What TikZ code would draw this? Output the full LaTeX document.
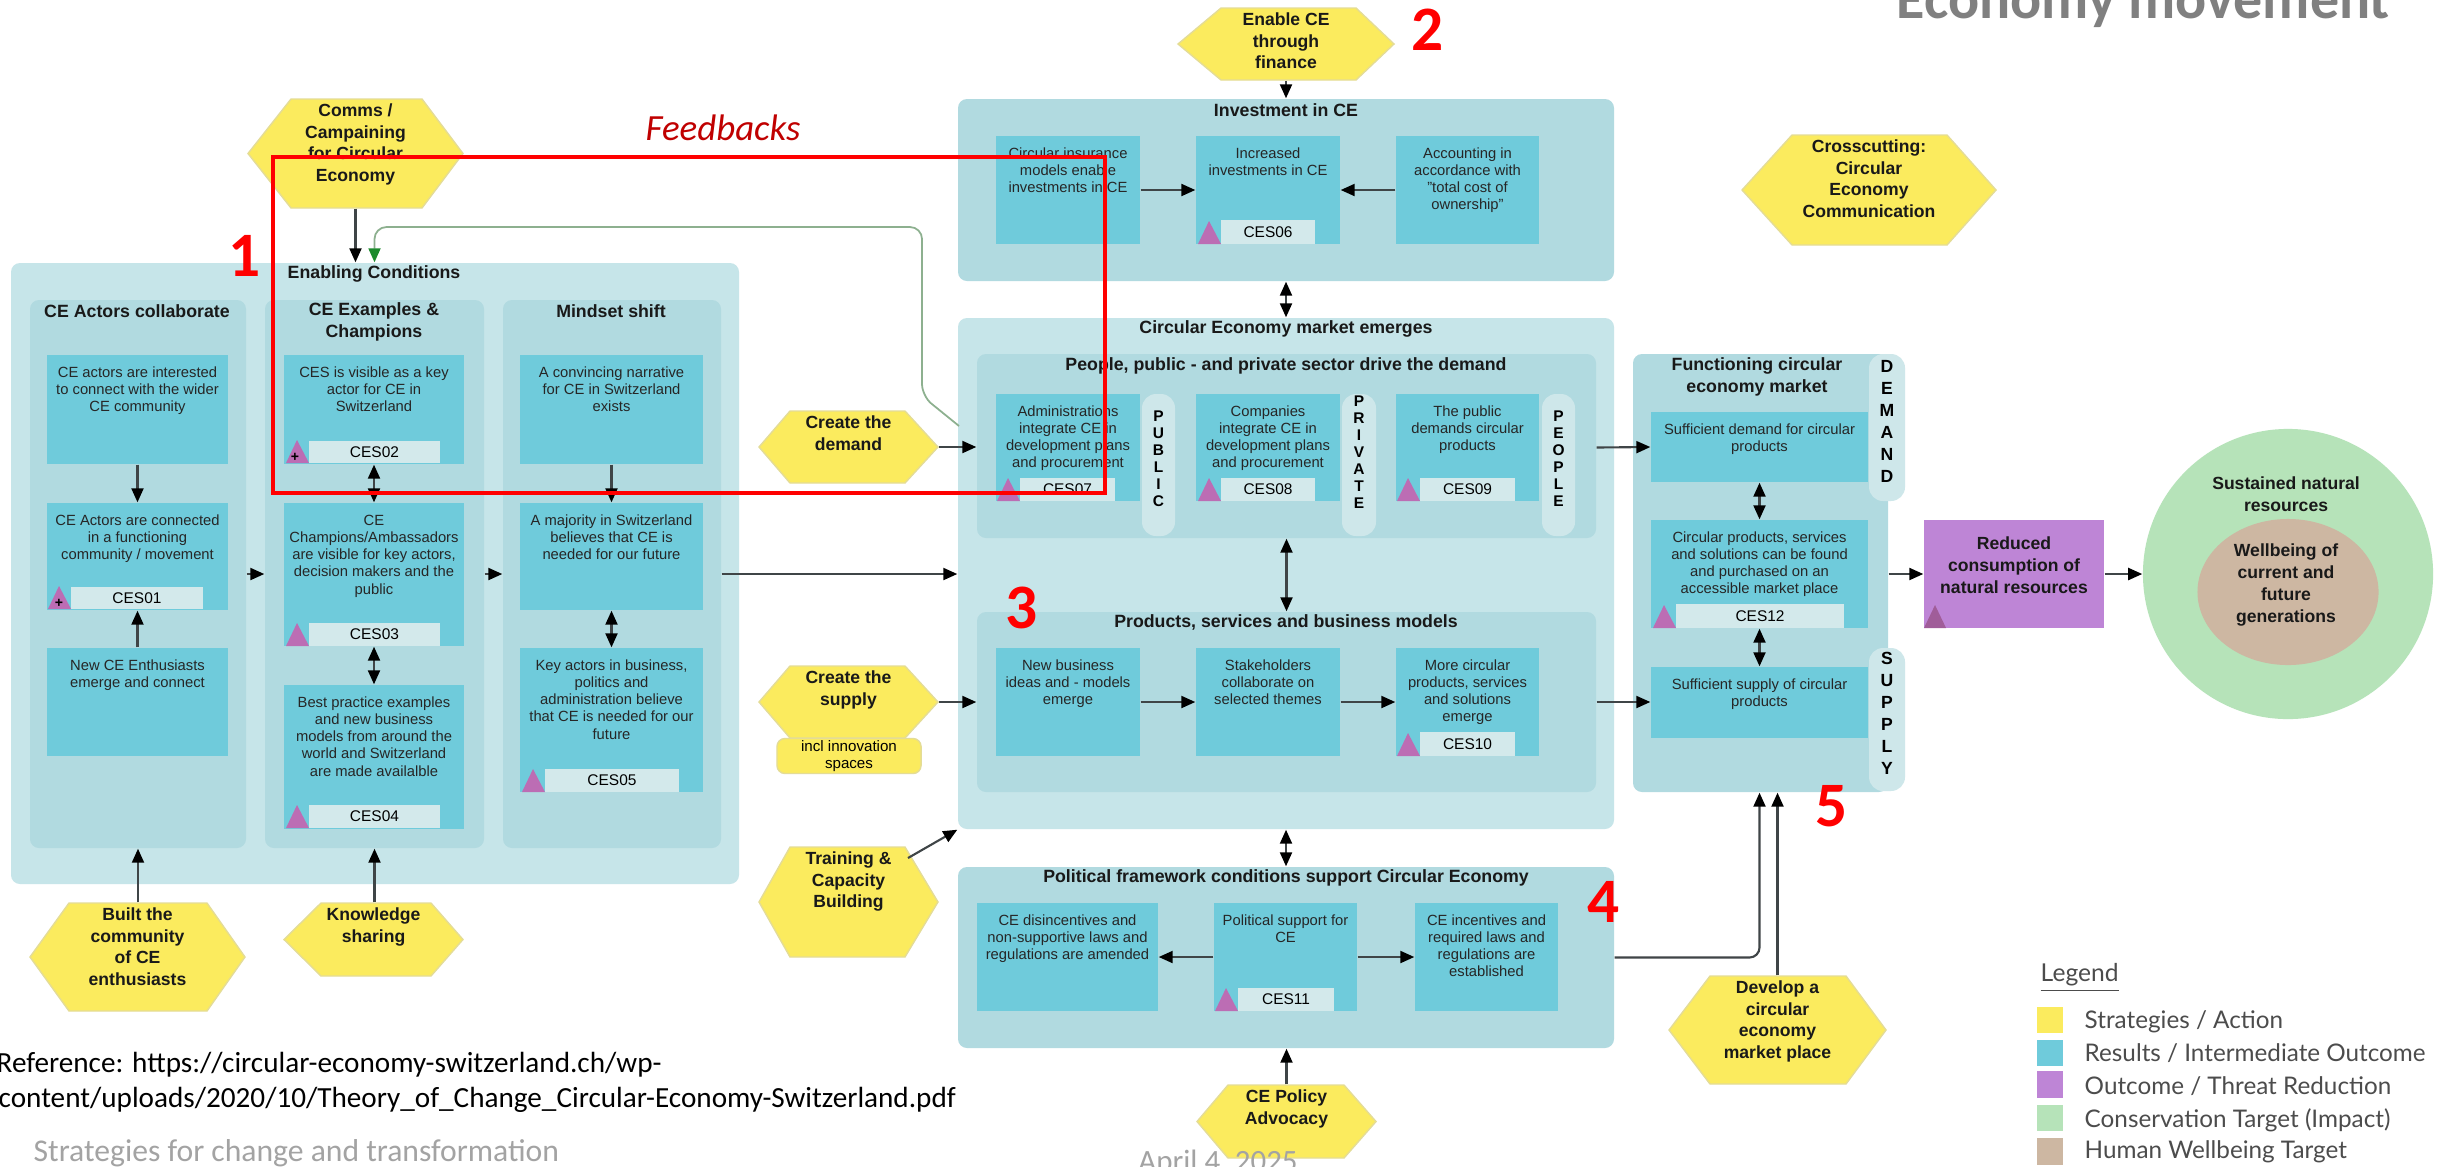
\documentclass[tikz,border=0pt]{standalone}
\usepackage{fontspec}
\setmainfont{Liberation Sans}
\newfontfamily\calibrifont{Carlito}
\newfontfamily\legendfont{Lato}
\usetikzlibrary{positioning,fit,arrows.meta,shapes.geometric}
\definecolor{zonelight}{HTML}{C6E5E9}
\definecolor{zonemid}{HTML}{B1DAE0}
\definecolor{resultblue}{HTML}{6FCBDB}
\definecolor{taglight}{HTML}{D3E9EB}
\definecolor{hexyellow}{HTML}{FBEB5E}
\definecolor{hexedge}{HTML}{E4DC96}
\definecolor{tripurple}{HTML}{BC6DB4}
\definecolor{outpurple}{HTML}{BE85D6}
\definecolor{targetgreen}{HTML}{B6E3B9}
\definecolor{targetbrown}{HTML}{CDB7A2}
\definecolor{linegrey}{HTML}{3F4547}
\definecolor{fbline}{HTML}{8DB08F}
\definecolor{fbtip}{HTML}{1C8A2C}
\definecolor{feedred}{HTML}{C00000}
\definecolor{slidegrey}{HTML}{A3A3A3}
\tikzset{
	zone/.style={inner sep=0pt,rounded corners=0.09cm},
	result/.style={fill=resultblue,inner sep=0pt},
	restext/.style={inner sep=0pt,align=center,text=black!85,font=\fontsize{4.2}{4.9}\selectfont},
	tagbox/.style={fill=taglight,inner sep=0pt},
	hexline/.style={fill=hexyellow,draw=hexedge,line width=0.4pt},
	hextext/.style={inner sep=0pt,align=center,text=black!90,font=\fontsize{5}{6.2}\selectfont\bfseries},
	zonetitle/.style={inner sep=0pt,align=center,text=black!90,font=\fontsize{5.05}{6.2}\selectfont\bfseries},
	tabbox/.style={fill=taglight!60!zonelight,inner sep=0pt,rounded corners=0.14cm},
	tabsmall/.style={inner sep=0pt,align=center,font=\fontsize{4.4}{4.83}\selectfont\bfseries},
	tablarge/.style={inner sep=0pt,align=center,font=\fontsize{5}{6.26}\selectfont\bfseries},
	conn/.style={draw=linegrey,line width=0.6pt,-{Triangle[length=0.14cm,width=0.12cm,color=black]}},
	connboth/.style={draw=linegrey,line width=0.6pt,{Triangle[length=0.14cm,width=0.12cm,color=black]}-{Triangle[length=0.14cm,width=0.12cm,color=black]}},
	rednum/.style={inner sep=0pt,text=red,font=\calibrifont\fontsize{18}{18}\selectfont\bfseries},
	legtext/.style={inner sep=0pt,anchor=west,text=black!70,font=\legendfont\fontsize{6.9}{8}\selectfont},
	swatch/.style={inner sep=0pt}
}
\newcommand{\ceszone}[6]{\node[zone,#6,fit={(#2,#3) (#4,#5)}] (#1) {};}
\newcommand{\cesresult}[6]{\node[result,fit={(#2,#3) (#4,#5)}] (#1) {};
	\node[restext,anchor=north,yshift=-0.1cm] (#1t) at (#1.north) {\strut #6};}
\newcommand{\cestag}[6]{\fill[tripurple] (#2,#5) -- ++(-23,0) -- ++(11,-23) -- cycle;
	\node[tagbox,fit={(#2,#3) (#4,#5)}] (#1) {};
	\node[inner sep=0pt,font=\fontsize{4.4}{5}\selectfont] (#1t) at (#1) {#6};}
\newcommand{\ceshex}[8]{\path[hexline] (#2,{(#6+#7)/2}) -- (#3,#6) -- (#4,#6) -- (#5,{(#6+#7)/2}) -- (#4,#7) -- (#3,#7) -- cycle;
	\node[inner sep=0pt,fit={(#2,#6) (#5,#7)}] (#1) {};
	\node[hextext,anchor=north,yshift=-0.02cm] (#1t) at (#1.north) {\strut #8};}
\newcommand{\cestab}[8]{\node[tabbox,fit={(#2,#3) (#4,#5)}] (#1) {};
	\node[#8] (#1t) at (#1 |- 0,#7) {#6};}
\begin{document}
\begin{tikzpicture}[x=0.01cm,y=-0.01cm]
	\useasboundingbox (0,0) rectangle (2443,1166);
	\clip (0,0) rectangle (2443,1166);
	\fill[white] (0,0) rectangle (2443,1166);

	\ceszone{enabling}{11}{263}{739}{884}{fill=zonelight}
	\ceszone{actors}{30}{300}{246}{848}{fill=zonemid}
	\ceszone{examples}{265}{300}{484}{848}{fill=zonemid}
	\ceszone{mindset}{503}{300}{721}{848}{fill=zonemid}
	\node[zonetitle] (enablingt) at (374,274) {Enabling Conditions};
	\node[zonetitle] (actorst) at (137,311) {CE Actors collaborate};
	\node[zonetitle] (examplest) at (374,322) {CE Examples \&\\Champions};
	\node[zonetitle] (mindsett) at (611,311) {Mindset shift};

	\cesresult{acta}{47}{355}{228}{464}{CE actors are interested\\to connect with the wider\\CE community}
	\cesresult{actb}{47}{503}{228}{610}{CE Actors are connected\\in a functioning\\community / movement}
	\cesresult{actc}{47}{648}{228}{756}{New CE Enthusiasts\\emerge and connect}
	\cesresult{exa}{284}{355}{464}{464}{CES is visible as a key\\actor for CE in\\Switzerland}
	\cesresult{exb}{284}{503}{464}{646}{CE\\Champions/Ambassadors\\are visible for key actors,\\decision makers and the\\public}
	\cesresult{exc}{284}{685}{464}{829}{Best practice examples\\and new business\\models from around the\\world and Switzerland\\are made availalble}
	\cesresult{mina}{520}{355}{703}{464}{A convincing narrative\\for CE in Switzerland\\exists}
	\cesresult{minb}{520}{503}{703}{610}{A majority in Switzerland\\believes that CE is\\needed for our future}
	\cesresult{minc}{520}{648}{703}{792}{Key actors in business,\\politics and\\administration believe\\that CE is needed for our\\future}
	\cestag{ces01}{71}{587}{203}{609}{CES01}
	\cestag{ces02}{309}{441}{440}{463}{CES02}
	\cestag{ces03}{309}{623}{440}{646}{CES03}
	\cestag{ces04}{309}{805}{440}{828}{CES04}
	\cestag{ces05}{545}{769}{679}{792}{CES05}
	\node[inner sep=0pt,font=\fontsize{4}{4}\selectfont\bfseries] (plus01) at (59,603) {+};
	\node[inner sep=0pt,font=\fontsize{4}{4}\selectfont\bfseries] (plus02) at (295,457) {+};

	\ceszone{invest}{958}{99}{1614}{281}{fill=zonemid}
	\node[zonetitle] (investt) at (1286,110) {Investment in CE};
	\cesresult{inva}{996}{136}{1140}{244}{Circular insurance\\models enable\\investments in CE}
	\cesresult{invb}{1196}{136}{1340}{244}{Increased\\investments in CE}
	\cesresult{invc}{1396}{136}{1539}{244}{Accounting in\\accordance with\\"total cost of\\ownership"}
	\cestag{ces06}{1221}{220}{1315}{244}{CES06}

	\ceszone{market}{958}{318}{1614}{829}{fill=zonelight}
	\node[zonetitle] (markett) at (1286,329) {Circular Economy market emerges};
	\ceszone{people}{977}{354}{1596}{538}{fill=zonemid}
	\node[zonetitle] (peoplet) at (1286,366) {People, public - and private sector drive the demand};
	\cesresult{peoa}{996}{394}{1140}{501}{Administrations\\integrate CE in\\development plans\\and procurement}
	\cesresult{peob}{1196}{394}{1340}{501}{Companies\\integrate CE in\\development plans\\and procurement}
	\cesresult{peoc}{1396}{394}{1539}{501}{The public\\demands circular\\products}
	\cestag{ces07}{1020}{478}{1115}{501}{CES07}
	\cestag{ces08}{1221}{478}{1315}{501}{CES08}
	\cestag{ces09}{1420}{478}{1515}{501}{CES09}
	\cestab{tabpublic}{1142}{394}{1175}{536}{P\\U\\B\\L\\I\\C}{459}{tabsmall}
	\cestab{tabprivate}{1342}{394}{1376}{536}{P\\R\\I\\V\\A\\T\\E}{452}{tabsmall}
	\cestab{tabpeople}{1542}{394}{1575}{536}{P\\E\\O\\P\\L\\E}{459}{tabsmall}

	\ceszone{products}{977}{612}{1596}{792}{fill=zonemid}
	\node[zonetitle] (productst) at (1286,622) {Products, services and business models};
	\cesresult{proa}{996}{648}{1140}{756}{New business\\ideas and - models\\emerge}
	\cesresult{prob}{1196}{648}{1340}{756}{Stakeholders\\collaborate on\\selected themes}
	\cesresult{proc}{1396}{648}{1539}{756}{More circular\\products, services\\and solutions\\emerge}
	\cestag{ces10}{1420}{732}{1515}{756}{CES10}

	\ceszone{political}{958}{867}{1614}{1048}{fill=zonemid}
	\node[zonetitle] (politicalt) at (1286,878) {Political framework conditions support Circular Economy};
	\cesresult{pola}{977}{903}{1158}{1011}{CE disincentives and\\non-supportive laws and\\regulations are amended}
	\cesresult{polb}{1214}{903}{1357}{1011}{Political support for\\CE}
	\cesresult{polc}{1415}{903}{1558}{1011}{CE incentives and\\required laws and\\regulations are\\established}
	\cestag{ces11}{1238}{988}{1334}{1011}{CES11}

	\ceszone{functioning}{1633}{354}{1888}{792}{fill=zonemid}
	\node[zonetitle] (functioningt) at (1757,377) {Functioning circular\\economy market};
	\cesresult{funa}{1651}{412}{1868}{482}{Sufficient demand for circular\\products}
	\cesresult{funb}{1651}{520}{1868}{628}{Circular products, services\\and solutions can be found\\and purchased on an\\accessible market place}
	\cesresult{func}{1651}{667}{1868}{738}{Sufficient supply of circular\\products}
	\cestag{ces12}{1676}{604}{1844}{628}{CES12}
	\cestab{tabdemand}{1869}{354}{1905}{501}{D\\E\\M\\A\\N\\D}{421}{tablarge}
	\cestab{tabsupply}{1869}{648}{1905}{791}{S\\U\\P\\P\\L\\Y}{713}{tablarge}

	\node[fill=outpurple,inner sep=0pt,fit={(1924,520) (2104,628)}] (reduced) {};
	\node[hextext,anchor=north,yshift=-0.02cm] (reducedt) at (2014,532) {\strut Reduced\\consumption of\\natural resources};
	\fill[tripurple!85!black] (1924,628) -- (1946,628) -- (1935,605) -- cycle;
	\node[circle,fill=targetgreen,inner sep=0pt,minimum size=2.9cm] (sustained) at (2288,574) {};
	\node[hextext] (sustainedt) at (2286,494) {Sustained natural\\resources};
	\node[ellipse,fill=targetbrown,inner sep=0pt,minimum width=1.81cm,minimum height=1.46cm] (wellbeing) at (2288,592) {};
	\node[hextext] (wellbeingt) at (2286,585) {Wellbeing of\\current and\\future\\generations};

	\ceshex{comms}{248}{291}{422}{463}{99}{208}{Comms /\\Campaining\\for Circular\\Economy}
	\ceshex{built}{30}{69}{207}{245}{903}{1011}{Built the\\community\\of CE\\enthusiasts}
	\ceshex{knowledge}{284}{321}{431}{463}{903}{976}{Knowledge\\sharing}
	\ceshex{enable}{1178}{1221}{1356}{1394}{8}{80}{Enable CE\\through\\finance}
	\ceshex{demand}{759}{790}{905}{938}{411}{483}{Create the\\demand}
	\ceshex{supply}{759}{790}{905}{938}{666}{738}{Create the\\supply}
	\ceshex{training}{759}{790}{905}{938}{847}{957}{Training \&\\Capacity\\Building}
	\ceshex{policy}{1197}{1228}{1344}{1376}{1085}{1158}{CE Policy\\Advocacy}
	\ceshex{crosscut}{1742}{1792}{1947}{1996}{135}{245}{Crosscutting:\\Circular\\Economy\\Communication}
	\ceshex{develop}{1669}{1710}{1846}{1886}{976}{1084}{Develop a\\circular\\economy\\market place}
	\node[fill=hexyellow,draw=hexedge,line width=0.4pt,rounded corners=0.08cm,inner sep=0pt,minimum width=1.44cm,minimum height=0.35cm,align=center,font=\fontsize{4.3}{4.9}\selectfont] (innovation) at (849,756) {incl innovation\\spaces};

	\draw[conn] (comms.south) -- (comms.south |- enabling.north);
	\draw[conn] (acta) -- (actb);
	\draw[conn] (actc) -- (actb);
	\draw[connboth] (exa) -- (exb);
	\draw[connboth] (exb) -- (exc);
	\draw[conn] (mina) -- (minb);
	\draw[connboth] (minb) -- (minc);
	\draw[conn] (actors) -- (examples);
	\draw[conn] (examples) -- (mindset);
	\draw[conn] (mindset.east) -- (mindset.east -| market.west);
	\draw[conn] (built.north -| actors) -- (actors.south);
	\draw[conn] (knowledge.north -| examples) -- (examples.south);
	\draw[conn] (enable.south) -- (enable.south |- invest.north);
	\draw[connboth] (invest) -- (market);
	\draw[conn] (inva) -- (invb);
	\draw[conn] (invc) -- (invb);
	\draw[conn] (demand.east) -- (demand.east -| people.west);
	\draw[conn] (peoa.east -| people.east) -- (funa.west);
	\draw[connboth] (people) -- (products);
	\draw[conn] (supply) -- (products);
	\draw[conn] (proa) -- (prob);
	\draw[conn] (prob) -- (proc);
	\draw[conn] (products.east) -- (products.east -| func.west);
	\coordinate (trainout) at (908,858);
	\draw[conn] (trainout) -- (market.south west);
	\draw[connboth] (market) -- (political);
	\draw[conn] (polb) -- (pola);
	\draw[conn] (polb) -- (polc);
	\draw[conn,rounded corners=0.1cm] (political.east) -| (funb |- functioning.south);
	\draw[conn] (develop.north) -- (develop.north |- functioning.south);
	\draw[conn] (policy.north) -- (policy.north |- political.south);
	\draw[connboth] (funa) -- (funb);
	\draw[connboth] (funb) -- (func);
	\draw[conn] (functioning.east |- reduced) -- (reduced.west);
	\draw[conn] (reduced.east) -- (sustained.west);
	\coordinate (fbstart) at (959,426);
	\coordinate (fbbend) at (922,396);
	\coordinate (fbturn) at (922,227);
	\draw[fbline,line width=0.5pt,rounded corners=0.12cm,-{Triangle[length=0.14cm,width=0.12cm,color=fbtip]}] (fbstart) -- (fbbend) -- (fbturn) -- (fbturn -| examples) -- (examples |- enabling.north);

	\node[draw=red,line width=1.4pt,inner sep=0pt,fit={(273,157) (1105,493)}] (redframe) {};
	\node[inner sep=0pt,text=feedred,font=\calibrifont\fontsize{10.5}{12}\selectfont\itshape] (feedbacks) at (723,128) {Feedbacks};
	\node[rednum] (num1) at (245,256) {1};
	\node[rednum] (num2) at (1428,30) {2};
	\node[rednum] (num3) at (1022,608) {3};
	\node[rednum] (num4) at (1604,902) {4};
	\node[rednum] (num5) at (1832,806) {5};

	\node[anchor=base west,inner sep=0pt,text=black!50,font=\calibrifont\fontsize{16.5}{18}\selectfont\bfseries] (slidetitle) at (1896,18) {Economy movement};
	\node[anchor=west,inner sep=0pt,font=\calibrifont\fontsize{8.3}{9}\selectfont] (refa) at (-4,1065) {Reference: https://circular-economy-switzerland.ch/wp-};
	\node[anchor=west,inner sep=0pt,font=\calibrifont\fontsize{8.3}{9}\selectfont] (refb) at (-2,1100) {content/uploads/2020/10/Theory\_of\_Change\_Circular-Economy-Switzerland.pdf};
	\node[anchor=west,inner sep=0pt,text=slidegrey,font=\calibrifont\fontsize{9}{10}\selectfont] (footleft) at (33,1153) {Strategies for change and transformation};
	\node[inner sep=0pt,text=slidegrey,font=\calibrifont\fontsize{8.8}{10}\selectfont] (footmid) at (1218,1163) {April 4, 2025};

	\node[anchor=west,inner sep=0pt,text=black!70,font=\legendfont\fontsize{7}{8}\selectfont] (legendt) at (2040,978) {\underline{Legend}};
	\node[swatch,fill=hexyellow,fit={(2037,1007) (2063,1033)}] (swa) {};
	\node[swatch,fill=resultblue,fit={(2037,1040) (2063,1066)}] (swb) {};
	\node[swatch,fill=outpurple,fit={(2037,1071) (2063,1098)}] (swc) {};
	\node[swatch,fill=targetgreen,fit={(2037,1105) (2063,1131)}] (swd) {};
	\node[swatch,fill=targetbrown,fit={(2037,1138) (2063,1165)}] (swe) {};
	\node[legtext] (lega) at (2084,1022) {Strategies / Action};
	\node[legtext] (legb) at (2084,1053) {Results / Intermediate Outcome};
	\node[legtext] (legc) at (2084,1086) {Outcome / Threat Reduction};
	\node[legtext] (legd) at (2084,1120) {Conservation Target (Impact)};
	\node[legtext] (lege) at (2084,1152) {Human Wellbeing Target};
\end{tikzpicture}
\end{document}
